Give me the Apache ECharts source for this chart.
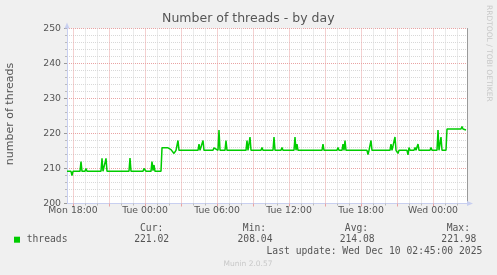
<!DOCTYPE html>
<html><head><meta charset="utf-8">
<script src="https://cdn.jsdelivr.net/npm/echarts@6/dist/echarts.min.js"></script>
<style>html,body{margin:0;padding:0;background:#f0f0f0;}#c{width:497px;height:275px;}</style>
</head><body><div id="c"></div>
<script>
// ---- data ----
const times = [
 'Mon 17:30','Mon 17:50','Mon 17:55','Mon 18:00','Mon 18:35','Mon 18:40','Mon 18:45','Mon 19:00','Mon 19:05','Mon 19:10',
 'Mon 20:20','Mon 20:25','Mon 20:30','Mon 20:40','Mon 20:45','Mon 20:50','Mon 22:40','Mon 22:45','Mon 22:50',
 'Mon 23:50','Mon 23:55','Tue 00:00','Tue 00:05','Tue 00:30','Tue 00:35','Tue 00:40','Tue 00:45','Tue 00:50',
 'Tue 01:20','Tue 01:25','Tue 01:55','Tue 02:00','Tue 02:10','Tue 02:25','Tue 02:35','Tue 02:40','Tue 02:45','Tue 02:50',
 'Tue 04:25','Tue 04:30','Tue 04:35','Tue 04:45','Tue 04:50','Tue 04:55',
 'Tue 05:40','Tue 05:45','Tue 05:50','Tue 05:55','Tue 06:05','Tue 06:10','Tue 06:15',
 'Tue 06:40','Tue 06:45','Tue 06:50','Tue 08:25','Tue 08:30','Tue 08:35','Tue 08:40','Tue 08:45','Tue 08:50',
 'Tue 09:40','Tue 09:45','Tue 09:50','Tue 10:40','Tue 10:45','Tue 10:50','Tue 11:20','Tue 11:25','Tue 11:30',
 'Tue 12:25','Tue 12:30','Tue 12:35','Tue 12:40','Tue 12:45','Tue 14:45','Tue 14:50','Tue 14:55',
 'Tue 16:00','Tue 16:05','Tue 16:10','Tue 16:25','Tue 16:30','Tue 16:35','Tue 16:40','Tue 16:45',
 'Tue 18:30','Tue 18:35','Tue 18:40','Tue 18:45','Tue 18:50','Tue 18:55',
 'Tue 20:25','Tue 20:30','Tue 20:35','Tue 20:45','Tue 20:50','Tue 20:55','Tue 21:05','Tue 21:10',
 'Tue 21:50','Tue 21:55','Tue 22:00','Tue 22:05','Tue 22:25','Tue 22:30','Tue 22:35','Tue 22:40','Tue 22:45','Tue 22:50',
 'Tue 23:45','Tue 23:50','Tue 23:55','Wed 00:20','Wed 00:25','Wed 00:30','Wed 00:35','Wed 00:40','Wed 00:45',
 'Wed 01:05','Wed 01:10','Wed 02:20','Wed 02:25','Wed 02:30','Wed 02:45'
];
const values = [
 209.2,209.2,208.0,209.2,209.2,212.0,209.2,209.2,210.0,209.2,
 209.2,212.9,209.2,209.2,212.9,209.2,209.2,213.0,209.2,
 209.2,210.0,210.0,209.2,209.2,212.0,209.4,211.0,209.2,
 209.2,215.9,215.9,216.2,215.4,214.3,215.2,215.2,218.0,215.2,
 215.2,217.0,215.2,215.2,218.0,215.2,
 215.2,215.9,215.9,215.4,215.2,221.0,215.2,
 215.2,218.0,215.2,215.2,218.0,215.2,215.2,219.0,215.2,
 215.2,216.0,215.2,215.2,219.0,215.2,215.2,216.0,215.2,
 215.2,219.0,215.2,217.0,215.2,215.2,217.0,215.2,
 215.2,216.0,215.2,215.2,217.0,215.2,218.0,215.2,
 215.2,214.0,215.2,215.2,218.0,215.2,
 215.2,217.0,215.2,215.2,219.0,215.2,214.3,215.2,
 215.2,213.9,216.0,215.2,215.2,216.0,215.2,215.2,217.0,215.2,
 215.2,216.0,215.2,215.2,221.0,215.2,215.2,219.0,215.2,
 215.2,221.3,221.3,222.0,221.3,221.0
];
const xTickLabels = ['Mon 18:00','Tue 00:00','Tue 06:00','Tue 12:00','Tue 18:00','Wed 00:00'];
const yTickLabels = [200,210,220,230,240,250];
const seriesName = 'threads';
const statCur = '221.02', statMin = '208.04', statAvg = '214.08', statMax = '221.98';
const lastUpdate = 'Last update: Wed Dec 10 02:45:00 2025';

// ---- helpers ----
const dayOffset = {Mon:0, Tue:24, Wed:48};
function toHours(s){ const [d,hm]=s.split(' '); const [h,m]=hm.split(':').map(Number); return dayOffset[d]+h+m/60; }
const labelHours = xTickLabels.map(toHours);
const xMin = 17.5, xMax = 50 + 50/60;
const minorHours = [], majorHours = [];
for (let h = 18; h <= 50; h++) { (h % 3 === 0 ? majorHours : minorHours).push(h); }
const seriesData = times.map((t,i)=>[toHours(t), values[i]]);

const txt = '#555', axisBlue = '#c8cff0', red = '#e9a3a3', gray = '#d8d8d8';
const sans = 'DejaVu Sans', mono = 'DejaVu Sans Mono';
function T(x,y,text,o){ o=o||{}; return {type:'text', x:x, y:y, rotation:o.rot||0, silent:true,
  style:{text:text, fontFamily:o.ff||mono, fontSize:o.fs||9.7, fill:o.fill||txt,
  align:o.align||'left', verticalAlign:'middle', textAlign:o.align||'left', textVerticalAlign:'middle'}}; }

const chart = echarts.init(document.getElementById('c'), null, {renderer:'canvas'});
chart.setOption({
  animation:false,
  backgroundColor:'#f0f0f0',
  grid:{left:67, top:28.5, width:400, height:175, show:true, backgroundColor:'#ffffff', borderWidth:0},
  xAxis:[
    {type:'value', min:xMin, max:xMax, position:'bottom',
     axisLine:{show:true, onZero:false, lineStyle:{color:axisBlue, width:1}, symbol:['none','triangle'], symbolSize:[5,6], symbolOffset:[0,3]},
     axisTick:{show:true, customValues:minorHours, length:2, lineStyle:{color:'#bbb'}},
     axisLabel:{show:true, customValues:labelHours, margin:3, fontSize:9.3, fontFamily:sans, color:txt,
       formatter:v=>{ const i=labelHours.findIndex(h=>Math.abs(h-v)<1e-6); return i>=0?xTickLabels[i]:''; }},
     splitLine:{show:true, lineStyle:{color:gray, width:1, type:[1,1]}}},
    {type:'value', min:xMin, max:xMax, position:'bottom',
     axisLine:{show:false},
     axisTick:{show:true, customValues:majorHours, length:3, lineStyle:{color:red}},
     axisLabel:{show:false},
     splitLine:{show:true, lineStyle:{color:red, width:1, type:[1,1]}}}
  ],
  yAxis:[
    {type:'value', min:yTickLabels[0], max:yTickLabels[yTickLabels.length-1], interval:10, position:'left',
     axisLine:{show:true, onZero:false, lineStyle:{color:axisBlue, width:1}, symbol:['none','triangle'], symbolSize:[5,6], symbolOffset:[0,3]},
     axisTick:{show:true, length:3, lineStyle:{color:'#999'}},
     minorTick:{show:true, splitNumber:5, length:2, lineStyle:{color:'#bbb'}},
     axisLabel:{margin:6, fontSize:9.3, fontFamily:sans, color:txt},
     splitLine:{show:true, lineStyle:{color:red, width:1, type:[1,1]}},
     minorSplitLine:{show:true, lineStyle:{color:gray, width:1, type:[1,1]}}},
    {type:'value', min:yTickLabels[0], max:yTickLabels[yTickLabels.length-1], interval:10, position:'right',
     axisLine:{show:true, onZero:false, lineStyle:{color:'#9a9a9a', width:1}},
     axisTick:{show:false}, axisLabel:{show:false}, splitLine:{show:false}}
  ],
  series:[{type:'line', name:seriesName, xAxisIndex:0, yAxisIndex:0, data:seriesData, showSymbol:false,
    lineStyle:{color:'#00cc00', width:1.5}, itemStyle:{color:'#00cc00'}, z:3}],
  graphic:[
    T(248.3, 18.9, 'Number of threads - by day', {ff:sans, fs:12.5, align:'center'}),
    T(10.5, 114, 'number of threads', {ff:sans, fs:11, align:'center', rot:Math.PI/2}),
    T(488.5, 53.3, 'RRDTOOL / TOBI OETIKER', {ff:sans, fs:7.5, align:'center', rot:-Math.PI/2, fill:'#c8c8c8'}),
    {type:'rect', shape:{x:14, y:236.7, width:6, height:6}, style:{fill:'#00cc00'}, silent:true},
    T(26.7, 239.3, seriesName),
    T(151.7, 228.3, 'Cur:', {align:'center'}),
    T(151.7, 239.3, statCur, {align:'center'}),
    T(254.5, 228.3, 'Min:', {align:'center'}),
    T(255, 239.3, statMin, {align:'center'}),
    T(356.5, 228.3, 'Avg:', {align:'center'}),
    T(357.2, 239.3, statAvg, {align:'center'}),
    T(458.3, 228.3, 'Max:', {align:'center'}),
    T(458.8, 239.3, statMax, {align:'center'}),
    T(482.3, 251, lastUpdate, {align:'right'}),
    T(248, 264, 'Munin 2.0.57', {ff:sans, fs:7.5, align:'center', fill:'#c8c8c8'})
  ]
});
</script></body></html>
